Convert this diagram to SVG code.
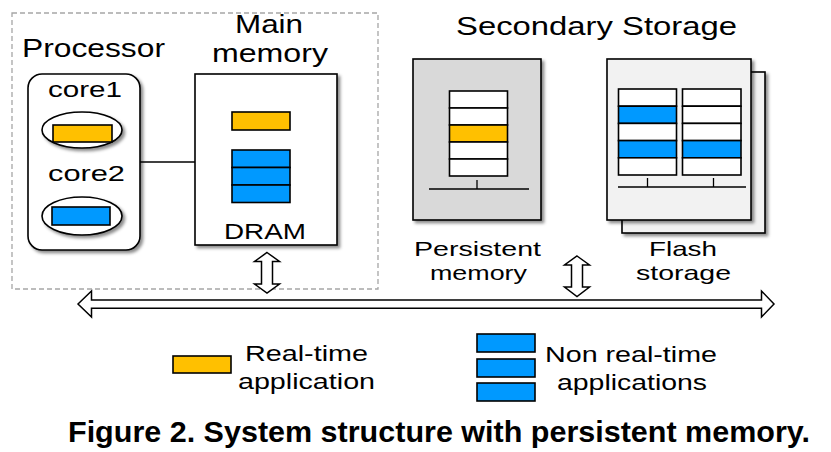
<svg xmlns="http://www.w3.org/2000/svg" width="831" height="452" viewBox="0 0 831 452">
<defs>
<filter id="sh" x="-10%" y="-10%" width="130%" height="130%">
<feDropShadow dx="2.5" dy="2.5" stdDeviation="1.5" flood-color="#000" flood-opacity="0.45"/>
</filter>
</defs>
<style>
text{font-family:"Liberation Sans",Arial,sans-serif;fill:#000}
.t{font-size:22.5px}
.s{font-size:21px}
.big{font-size:25.5px}
.lg{font-size:22px}
.box{stroke:#000;stroke-width:1.6;filter:url(#sh)}
.cell{fill:#fff;stroke:#000;stroke-width:1.6}
.o{fill:#FFC000;stroke:#000;stroke-width:1.6}
.b{fill:#0099FF;stroke:#000;stroke-width:1.6}
.ln{stroke:#000;stroke-width:1.3;fill:none}
.arr{fill:#fff;stroke:#000;stroke-width:1.5;stroke-linejoin:miter}
</style>
<rect width="831" height="452" fill="#fff"/>

<g id="host-boundary">
<rect x="12" y="13" width="366" height="276" fill="none" stroke="#a6a6a6" stroke-width="1.3" stroke-dasharray="5,3"/>
</g>

<g id="processor">
<text class="big" x="22" y="57" textLength="143" lengthAdjust="spacingAndGlyphs">Processor</text>
<rect class="box" x="28" y="74" width="112" height="176" rx="14" fill="#fff"/>
<text class="t" x="48" y="97" textLength="74" lengthAdjust="spacingAndGlyphs">core1</text>
<ellipse class="box" cx="82" cy="130" rx="40" ry="18" fill="#fff"/>
<rect class="o" x="53" y="125" width="59" height="17"/>
<text class="t" x="48" y="181" textLength="77" lengthAdjust="spacingAndGlyphs">core2</text>
<ellipse class="box" cx="82" cy="216" rx="40" ry="19" fill="#fff"/>
<rect class="b" x="52" y="207" width="58" height="18"/>
</g>

<g id="main-memory">
<text class="big" x="235" y="33" textLength="68" lengthAdjust="spacingAndGlyphs">Main</text>
<text class="big" x="212" y="62" textLength="116" lengthAdjust="spacingAndGlyphs">memory</text>
<rect class="box" x="195" y="74" width="142" height="171" fill="#fff"/>
<rect class="o" x="232" y="112" width="58" height="18"/>
<rect class="b" x="232" y="150" width="58" height="17.5"/>
<rect class="b" x="232" y="167.5" width="58" height="17.5"/>
<rect class="b" x="232" y="185" width="58" height="17.5"/>
<text class="t" x="224" y="239" textLength="82" lengthAdjust="spacingAndGlyphs">DRAM</text>
</g>

<g id="secondary-storage-label">
<text class="big" x="456" y="35" textLength="281" lengthAdjust="spacingAndGlyphs">Secondary Storage</text>
</g>

<g id="persistent-memory">
<rect class="box" x="413" y="59" width="128" height="161" fill="#d9d9d9"/>
<rect class="cell" x="449.5" y="91" width="58" height="17"/>
<rect class="cell" x="449.5" y="108" width="58" height="17"/>
<rect class="o" x="449.5" y="125" width="58" height="17"/>
<rect class="cell" x="449.5" y="142" width="58" height="17"/>
<rect class="cell" x="449.5" y="159" width="58" height="17"/>
<line class="ln" x1="429" y1="189" x2="529" y2="189"/>
<line class="ln" x1="477" y1="180" x2="477" y2="189"/>
<text class="s" x="414" y="256" textLength="127" lengthAdjust="spacingAndGlyphs">Persistent</text>
<text class="s" x="430" y="280" textLength="97" lengthAdjust="spacingAndGlyphs">memory</text>
</g>

<g id="flash-storage">
<rect class="box" x="622" y="72" width="143" height="161" fill="#f2f2f2"/>
<rect class="box" x="607" y="59" width="144" height="161" fill="#f2f2f2"/>
<rect class="cell" x="618.5" y="89" width="58" height="17.2"/>
<rect class="b" x="618.5" y="106.2" width="58" height="17.2"/>
<rect class="cell" x="618.5" y="123.4" width="58" height="17.2"/>
<rect class="b" x="618.5" y="140.6" width="58" height="17.2"/>
<rect class="cell" x="618.5" y="157.8" width="58" height="17.2"/>
<rect class="cell" x="682.5" y="89" width="58.5" height="17.2"/>
<rect class="cell" x="682.5" y="106.2" width="58.5" height="17.2"/>
<rect class="cell" x="682.5" y="123.4" width="58.5" height="17.2"/>
<rect class="b" x="682.5" y="140.6" width="58.5" height="17.2"/>
<rect class="cell" x="682.5" y="157.8" width="58.5" height="17.2"/>
<line class="ln" x1="618" y1="187" x2="746" y2="187"/>
<line class="ln" x1="647.5" y1="178" x2="647.5" y2="187"/>
<line class="ln" x1="713.5" y1="178" x2="713.5" y2="187"/>
<text class="s" x="649" y="256" textLength="68" lengthAdjust="spacingAndGlyphs">Flash</text>
<text class="s" x="636" y="280" textLength="95" lengthAdjust="spacingAndGlyphs">storage</text>
</g>

<g id="connectors">
<line class="ln" x1="140" y1="162" x2="195" y2="162"/>
<path class="arr" d="M267,252.5 L279.5,261.5 L272.5,261.5 L272.5,284 L279.5,284 L267,293 L254.5,284 L261.5,284 L261.5,261.5 L254.5,261.5 Z"/>
<path class="arr" d="M577,256 L589.5,265 L582.5,265 L582.5,287 L589.5,287 L577,296.5 L564.5,287 L571.5,287 L571.5,265 L564.5,265 Z"/>
<path class="arr" d="M78,304 L91.5,291 L91.5,300 L761.5,300 L761.5,291 L774,304 L761.5,317 L761.5,308.3 L91.5,308.3 L91.5,317 Z"/>
</g>

<g id="legend">
<rect class="o" x="173" y="356" width="58" height="17"/>
<text class="lg" x="245" y="361" textLength="123" lengthAdjust="spacingAndGlyphs">Real-time</text>
<text class="lg" x="238" y="389" textLength="137" lengthAdjust="spacingAndGlyphs">application</text>
<rect class="b" x="477" y="334" width="58" height="18"/>
<rect class="b" x="477" y="359" width="58" height="18"/>
<rect class="b" x="477" y="383" width="58" height="18"/>
<text class="lg" x="545" y="362" textLength="172" lengthAdjust="spacingAndGlyphs">Non real-time</text>
<text class="lg" x="557" y="390" textLength="150" lengthAdjust="spacingAndGlyphs">applications</text>
</g>

<g id="caption">
<text x="68" y="442" style="font-size:29px;font-weight:bold" textLength="742" lengthAdjust="spacingAndGlyphs">Figure 2. System structure with persistent memory.</text>
</g>
</svg>
